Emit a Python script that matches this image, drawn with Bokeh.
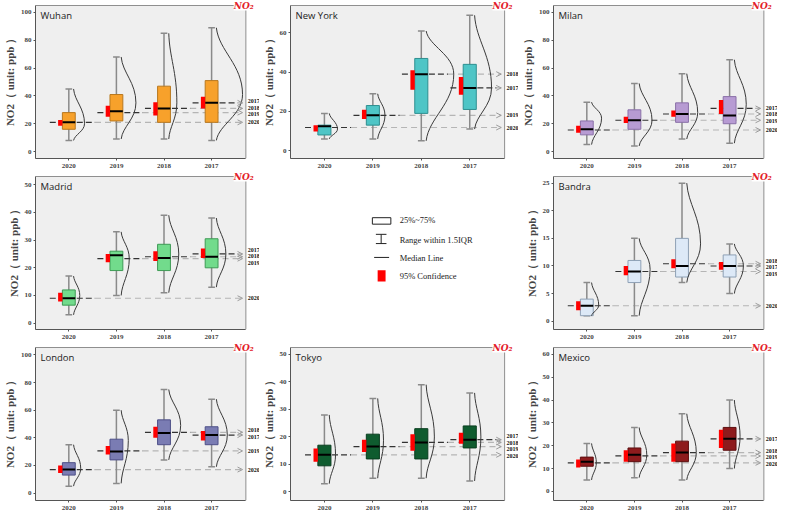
import numpy as np
from bokeh.plotting import figure
from bokeh.layouts import gridplot
from bokeh.models import Range1d, FixedTicker, Label, Arrow, OpenHead, ColumnDataSource, LabelSet
from bokeh.core.properties import value
from bokeh.embed import file_html
from bokeh.resources import INLINE

# ---------------- data ----------------
years = ["2020", "2019", "2018", "2017"]
cities = ["Wuhan", "New York", "Milan", "Madrid", "Bandra", "London", "Tokyo", "Mexico"]

whisker_lo = {"Wuhan": [8, 9, 9, 8], "New York": [6, 6, 5, 11], "Milan": [5, 4, 9, 6],
              "Madrid": [3, 10, 11, 13], "Bandra": [1, 1, 7, 5], "London": [5, 7, 24, 19],
              "Tokyo": [3, 5, 5, 4], "Mexico": [5, 6, 5, 10]}
q1 = {"Wuhan": [16, 22, 21, 21], "New York": [8, 13, 19, 21], "Milan": [12, 16, 21, 20],
      "Madrid": [6.5, 19, 19, 20], "Bandra": [1, 7, 8, 8], "London": [13, 24, 35, 35],
      "Tokyo": [9.5, 12, 12, 16], "Mexico": [11, 13, 13, 18]}
median = {"Wuhan": [21, 29, 31, 35], "New York": [12.5, 18, 39, 32], "Milan": [16, 22.5, 27, 26],
          "Madrid": [9, 24.5, 23.5, 24], "Bandra": [2.8, 9, 10, 10], "London": [17, 30, 43.5, 42],
          "Tokyo": [13.5, 16.5, 18, 19], "Mexico": [13, 16, 17, 23]}
q3 = {"Wuhan": [28, 41, 47, 51], "New York": [13, 23, 47, 44], "Milan": [22, 30, 35, 39.5],
      "Madrid": [12, 26, 28.5, 30.5], "Bandra": [4, 11, 15, 12], "London": [22, 39, 53, 48],
      "Tokyo": [17, 21, 23, 24], "Mexico": [15, 19, 22, 28]}
whisker_hi = {"Wuhan": [45, 68, 85, 89], "New York": [19, 29, 61, 69], "Milan": [35.5, 49, 56, 66],
              "Madrid": [17, 33, 39, 38], "Bandra": [7, 15, 25, 14], "London": [35, 60, 75, 68],
              "Tokyo": [28, 34, 39, 36], "Mexico": [21, 28, 34, 40]}
mean = {"Wuhan": [21, 28, 31, 35], "New York": [11.8, 18, 39, 32], "Milan": [15.5, 22.5, 27, 31],
        "Madrid": [9, 23.3, 24, 25], "Bandra": [2.8, 9, 10.4, 10], "London": [17, 30.5, 44, 42],
        "Tokyo": [13.5, 16.5, 18, 19], "Mexico": [12.5, 15.5, 17, 23]}
ci_lo = {"Wuhan": [18.6, 25, 26, 31], "New York": [9.8, 16.2, 31, 28.5], "Milan": [13.5, 20.5, 25, 27],
         "Madrid": [7.8, 22, 22.5, 23.5], "Bandra": [2, 8.3, 9.6, 9.3], "London": [14.5, 28, 40, 38],
         "Tokyo": [11, 14.5, 15, 17.5], "Mexico": [10.5, 13, 13, 19]}
ci_hi = {"Wuhan": [22.6, 33, 35.4, 39.4], "New York": [12.9, 20.8, 41, 37.5], "Milan": [18.5, 25, 29.5, 37],
         "Madrid": [11, 25, 26, 27], "Bandra": [3.6, 10, 11.2, 10.7], "London": [20, 34, 48, 45],
         "Tokyo": [15.8, 19, 21, 21.5], "Mexico": [14, 18, 21, 27]}
density_peak_y = {"Wuhan": [20, 35, 35, 41], "New York": [11, 18, 39, 32], "Milan": [24, 22.5, 28, 34],
                  "Madrid": [10, 23.3, 25, 25], "Bandra": [2.9, 9.4, 14, 10], "London": [18, 38, 49, 42],
                  "Tokyo": [13.6, 18.8, 20, 20], "Mexico": [12.6, 16, 17, 24]}
density_peak_w = {"Wuhan": [0.33, 0.41, 0.27, 0.65], "New York": [0.27, 0.25, 0.67, 0.45],
                  "Milan": [0.31, 0.37, 0.33, 0.35], "Madrid": [0.23, 0.27, 0.31, 0.3],
                  "Bandra": [0.25, 0.33, 0.39, 0.29], "London": [0.25, 0.25, 0.35, 0.33],
                  "Tokyo": [0.23, 0.22, 0.27, 0.23], "Mexico": [0.2, 0.26, 0.3, 0.22]}

y_limits = {"Wuhan": (-5, 105), "New York": (-4, 74), "Milan": (-5, 105), "Madrid": (-2.3, 53),
            "Bandra": (-1.5, 26.2), "London": (-5.4, 105.4), "Tokyo": (-3.1, 52.5), "Mexico": (-4, 63)}
y_ticks = {"Wuhan": [0, 20, 40, 60, 80, 100], "New York": [0, 20, 40, 60], "Milan": [0, 20, 40, 60, 80, 100],
           "Madrid": [0, 10, 20, 30, 40, 50], "Bandra": [0, 5, 10, 15, 20, 25],
           "London": [0, 20, 40, 60, 80, 100], "Tokyo": [0, 10, 20, 30, 40, 50],
           "Mexico": [0, 10, 20, 30, 40, 50, 60]}
box_fill = {"Wuhan": "#f7a12b", "New York": "#4ec5c6", "Milan": "#b79bd3", "Madrid": "#72db8c",
            "Bandra": "#dde9f7", "London": "#7a7cb3", "Tokyo": "#0f5c2f", "Mexico": "#8e1b1d"}
box_line = {"Wuhan": "#b8781f", "New York": "#2e8f90", "Milan": "#8a70a8", "Madrid": "#3e9a55",
            "Bandra": "#8ea0b5", "London": "#4e5088", "Tokyo": "#083d1e", "Mexico": "#5d0f10"}

legend_labels = ["25%~75%", "Range within 1.5IQR", "Median Line", "95% Confidence"]

# ---------------- layout ----------------
W, H = 259, 171
LEFT, BOTTOM = 29, 13
RIGHT_PAD, TOP_PAD = 14, 5          # white strips inside the frame (for side labels / tag)
XR = (0.3, 4.72)                     # extent of the grey plotting panel
PANEL_W = W - LEFT - RIGHT_PAD
PANEL_H = H - BOTTOM - TOP_PAD
SERIF = "Liberation Serif"


def spread(vals, sep):
    pos = np.array(vals, dtype=float)
    order = np.argsort(pos)
    for _ in range(200):
        moved = False
        for a, b in zip(order[:-1], order[1:]):
            gap = pos[b] - pos[a]
            if gap < sep - 1e-9:
                d = (sep - gap) / 2
                pos[a] -= d
                pos[b] += d
                moved = True
        if not moved:
            break
    return pos


def make_panel(city):
    y0, y1 = y_limits[city]
    x_end = XR[1] + (XR[1] - XR[0]) * RIGHT_PAD / PANEL_W
    y_end = y1 + (y1 - y0) * TOP_PAD / PANEL_H
    p = figure(width=W, height=H, output_backend="svg", toolbar_location=None,
               x_range=Range1d(XR[0], x_end), y_range=Range1d(y0, y_end),
               min_border_left=LEFT, min_border_right=0, min_border_top=0, min_border_bottom=BOTTOM)
    p.background_fill_color = "white"
    p.border_fill_color = "white"
    p.outline_line_color = None
    p.xgrid.visible = False
    p.ygrid.visible = False

    # grey panel
    p.quad(left=[XR[0]], right=[XR[1]], bottom=[y0], top=[y1], fill_color="#efefef",
           line_color="#8f8f8f", line_width=1)

    xs = np.arange(1, 5, dtype=float)
    lo = np.array(whisker_lo[city], float)
    hi = np.array(whisker_hi[city], float)
    b1 = np.array(q1[city], float)
    b3 = np.array(q3[city], float)
    md = np.array(median[city], float)
    mn = np.array(mean[city], float)
    cl = np.array(ci_lo[city], float)
    ch = np.array(ci_hi[city], float)
    pk = np.array(density_peak_y[city], float)
    pw = np.array(density_peak_w[city], float)

    xtip = XR[1] - 0.07
    # guide lines of the means
    p.segment(x0=xs + 0.55, y0=mn, x1=np.full(4, xtip), y1=mn, line_color="#b5b5b5",
              line_width=1.2, line_dash="6 4")
    p.segment(x0=xs - 0.4, y0=mn, x1=np.minimum(xs + 0.55, xtip), y1=mn, line_color="#333333",
              line_width=1.2, line_dash="6 3")
    arr_src = ColumnDataSource(dict(xa=np.full(4, xtip - 0.05), xb=np.full(4, xtip), y=mn))
    p.add_layout(Arrow(x_start="xa", y_start="y", x_end="xb", y_end="y", source=arr_src,
                       line_alpha=0.0, start=None,
                       end=OpenHead(size=5, line_color="#9a9a9a", line_width=1)))

    # whiskers
    p.segment(x0=xs, y0=lo, x1=xs, y1=hi, line_color="#8a8a8a", line_width=1.5)
    p.segment(x0=xs - 0.07, y0=hi, x1=xs + 0.07, y1=hi, line_color="#8a8a8a", line_width=1.5)
    p.segment(x0=xs - 0.07, y0=lo, x1=xs + 0.07, y1=lo, line_color="#8a8a8a", line_width=1.5)
    # boxes
    p.quad(left=xs - 0.135, right=xs + 0.135, bottom=b1, top=b3, fill_color=box_fill[city],
           line_color=box_line[city], line_width=1)
    p.segment(x0=xs - 0.135, y0=md, x1=xs + 0.135, y1=md, line_color="black", line_width=2)
    # 95% confidence
    p.quad(left=xs - 0.225, right=xs - 0.135, bottom=cl, top=ch, fill_color="#ff0000",
           line_color=None)
    # half violins
    base = xs + 0.1
    px = xs + pw
    p.bezier(x0=base, y0=hi, x1=px, y1=pk, cx0=base + 0.1 * (px - base), cy0=hi - 0.35 * (hi - pk),
             cx1=px, cy1=pk + 0.45 * (hi - pk), line_color="#3a3a3a", line_width=1)
    p.bezier(x0=px, y0=pk, x1=base, y1=lo, cx0=px, cy0=pk - 0.45 * (pk - lo),
             cx1=base + 0.1 * (px - base), cy1=lo + 0.35 * (pk - lo), line_color="#3a3a3a", line_width=1)

    # year labels at the right edge
    sep = 6.5 * (y1 - y0) / PANEL_H
    lab_src = ColumnDataSource(dict(x=np.full(4, XR[1]), y=spread(mn, sep), t=years))
    p.add_layout(LabelSet(x="x", y="y", text="t", source=lab_src, x_offset=2,
                          text_baseline="middle", text_font=value(SERIF), text_font_style="bold",
                          text_font_size="6px", text_color="#111111"))

    # city name and NO2 tag
    p.add_layout(Label(x=XR[0], y=y1, x_offset=5, y_offset=-10, text=city, text_font="Open Sans",
                       text_font_size="9.5px", text_baseline="middle", text_color="#222222"))
    p.add_layout(Label(x=XR[1], y=y1, x_offset=1, y_offset=0, text=" NO₂ ", text_font="DejaVu Serif",
                       text_font_style="bold italic", text_font_size="9px", text_color="#e3202a",
                       text_align="center", text_baseline="middle", background_fill_color="white"))

    # axes
    p.xaxis.ticker = FixedTicker(ticks=[1, 2, 3, 4])
    p.xaxis.major_label_overrides = {1: years[0], 2: years[1], 3: years[2], 4: years[3]}
    p.xaxis.bounds = XR
    p.yaxis.ticker = FixedTicker(ticks=y_ticks[city])
    p.yaxis.bounds = (y0, y1)
    p.yaxis.axis_label = "NO2（ unit: ppb ）"
    p.yaxis.axis_label_text_font = SERIF
    p.yaxis.axis_label_text_font_style = "bold"
    p.yaxis.axis_label_text_font_size = "11px"
    p.yaxis.axis_label_standoff = 2
    for ax in (p.xaxis[0], p.yaxis[0]):
        ax.major_label_text_font = SERIF
        ax.major_label_text_font_style = "bold"
        ax.major_label_text_font_size = "7px"
        ax.major_tick_out = 2
        ax.major_tick_in = 0
        ax.minor_tick_line_color = None
        ax.axis_line_color = "#555555"
        ax.major_tick_line_color = "#555555"
        ax.major_label_standoff = 2
    p.xaxis.major_label_standoff = 3
    return p


def make_legend():
    p = figure(width=W, height=H, output_backend="svg", toolbar_location=None,
               x_range=Range1d(0, W), y_range=Range1d(H, 0), x_axis_type=None, y_axis_type=None,
               min_border=0)
    p.outline_line_color = None
    p.xgrid.visible = False
    p.ygrid.visible = False
    p.background_fill_color = "white"
    p.quad(left=[93], right=[114], top=[50], bottom=[57], fill_color="white", line_color="#222222",
           line_width=1)
    p.segment(x0=[103], y0=[68], x1=[103], y1=[78], line_color="#222222", line_width=1)
    p.segment(x0=[97, 97], y0=[68, 78], x1=[109, 109], y1=[68, 78], line_color="#222222", line_width=1)
    p.segment(x0=[95], y0=[93], x1=[112], y1=[93], line_color="#222222", line_width=1)
    p.quad(left=[99], right=[108], top=[107], bottom=[119], fill_color="#ff0000", line_color=None)
    src = ColumnDataSource(dict(x=[124] * 4, y=[53, 74, 94, 113], t=legend_labels))
    p.text(x="x", y="y", text="t", source=src, text_font=value(SERIF), text_font_size="8.5px",
           text_baseline="middle", text_color="#222222")
    return p


panels = {c: make_panel(c) for c in cities}
legend = make_legend()
grid = gridplot([[panels["Wuhan"], panels["New York"], panels["Milan"]],
                 [panels["Madrid"], legend, panels["Bandra"]],
                 [panels["London"], panels["Tokyo"], panels["Mexico"]]],
                toolbar_location=None)

open("out.html", "w").write(file_html(grid, INLINE))
